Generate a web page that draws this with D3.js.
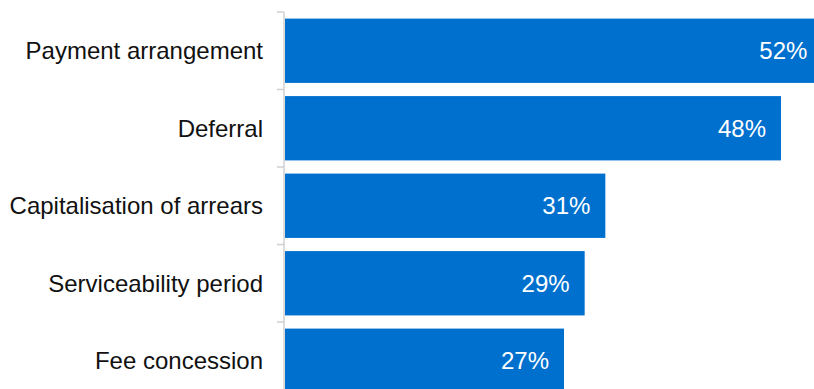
<!DOCTYPE html>
<html>
<head>
<meta charset="utf-8">
<script src="https://cdn.jsdelivr.net/npm/d3@7"></script>
<style>
  html, body { margin: 0; padding: 0; background: #fff; }
  svg { display: block; }
</style>
</head>
<body>
<svg id="chart" width="814" height="389"></svg>
<script>
// Share of hardship arrangements by type (%)
const categories = [
  "Payment arrangement",
  "Deferral",
  "Capitalisation of arrears",
  "Serviceability period",
  "Fee concession"
];
const values = [52, 48, 31, 29, 27];

const width = 814, height = 389;
const svg = d3.select("#chart");

const x = d3.scaleLinear().domain([0, 60]).range([285, 285 + 620]);
const y = d3.scaleBand()
  .domain(categories)
  .range([12, 12 + 77.5 * categories.length])
  .paddingInner(0.17)
  .paddingOuter(0.085);

// bars
svg.append("g").selectAll("rect")
  .data(categories)
  .join("rect")
  .attr("x", x(0))
  .attr("y", d => y(d))
  .attr("width", (d, i) => x(values[i]) - x(0))
  .attr("height", y.bandwidth())
  .attr("fill", "#0070CE");

// category axis: vertical line with ticks at band boundaries
const axisX = 284;
const axis = svg.append("g").attr("stroke", "#d0d0d0").attr("stroke-width", 1.5);
axis.append("line")
  .attr("x1", axisX).attr("x2", axisX)
  .attr("y1", y.range()[0]).attr("y2", height);
const boundaries = d3.range(categories.length + 1).map(i => y.range()[0] + i * y.step());
axis.selectAll("line.tick")
  .data(boundaries)
  .join("line")
  .attr("class", "tick")
  .attr("x1", axisX - 7).attr("x2", axisX)
  .attr("y1", d => d).attr("y2", d => d);

// category labels
svg.append("g").selectAll("text")
  .data(categories)
  .join("text")
  .attr("x", 263)
  .attr("y", d => y(d) + y.bandwidth() / 2)
  .attr("text-anchor", "end")
  .attr("dominant-baseline", "central")
  .attr("font-family", "'Liberation Sans', Arial, sans-serif")
  .attr("font-size", 24)
  .attr("fill", "#111")
  .text(d => d);

// value labels inside bar ends
svg.append("g").selectAll("text")
  .data(categories)
  .join("text")
  .attr("x", (d, i) => x(values[i]) - 15)
  .attr("y", d => y(d) + y.bandwidth() / 2)
  .attr("text-anchor", "end")
  .attr("dominant-baseline", "central")
  .attr("font-family", "'Liberation Sans', Arial, sans-serif")
  .attr("font-size", 24)
  .attr("fill", "#fff")
  .text((d, i) => values[i] + "%");
</script>
</body>
</html>
